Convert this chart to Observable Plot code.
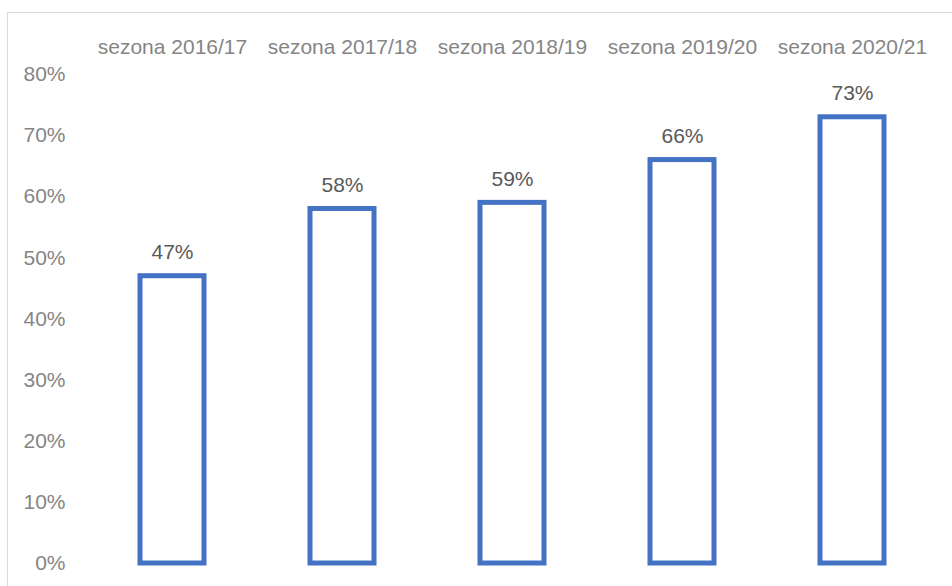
<!DOCTYPE html>
<html>
<head>
<meta charset="utf-8">
<script src="https://cdn.jsdelivr.net/npm/d3@7"></script>
<script src="https://cdn.jsdelivr.net/npm/@observablehq/plot@0.6"></script>
<style>
  html, body { margin: 0; padding: 0; background: #fff; overflow: hidden; }
  #wrap { position: relative; width: 952px; height: 586px; overflow: hidden; }
  #border { position: absolute; left: 7px; top: 12px; width: 1200px; height: 1200px; border: 1px solid #d9d9d9; box-sizing: border-box; pointer-events: none; }
  #chart { position: absolute; left: 0; top: 0; }
</style>
</head>
<body>
<div id="wrap">
  <div id="border"></div>
  <div id="chart"></div>
</div>
<script>
const seasons = ["sezona 2016/17", "sezona 2017/18", "sezona 2018/19", "sezona 2019/20", "sezona 2020/21"];
const shares = [47, 58, 59, 66, 73];
const yTicks = [0, 10, 20, 30, 40, 50, 60, 70, 80];

const data = seasons.map((s, i) => ({season: s, value: shares[i]}));
const font = "'Liberation Sans', Arial, sans-serif";
const fs = 21;

const chart = Plot.plot({
  width: 952,
  height: 586,
  marginLeft: 87,
  marginRight: 15,
  marginTop: 74,
  marginBottom: 23,
  style: {fontFamily: font, fontSize: fs + "px", background: "transparent"},
  x: {domain: seasons, paddingInner: 0.624, paddingOuter: 0.312, axis: null},
  y: {domain: [0, 80], axis: null},
  marks: [
    Plot.axisY(yTicks, {
      tickSize: 0, tickPadding: 22, tickFormat: d => d + "%", label: null,
      fill: "#858585", fontSize: fs, fontFamily: font
    }),
    Plot.axisX({
      anchor: "top", tickSize: 0, tickPadding: 21, label: null,
      fill: "#858585", fontSize: fs, fontFamily: font
    }),
    Plot.barY(data, {
      x: "season", y: "value",
      fill: "white", stroke: "#4472C4", strokeWidth: 5, inset: 0
    }),
    Plot.text(data, {
      x: "season", y: "value", text: d => d.value + "%",
      dy: -24, fill: "#595959", fontSize: fs, fontFamily: font
    })
  ]
});
document.getElementById("chart").appendChild(chart);
</script>
</body>
</html>
